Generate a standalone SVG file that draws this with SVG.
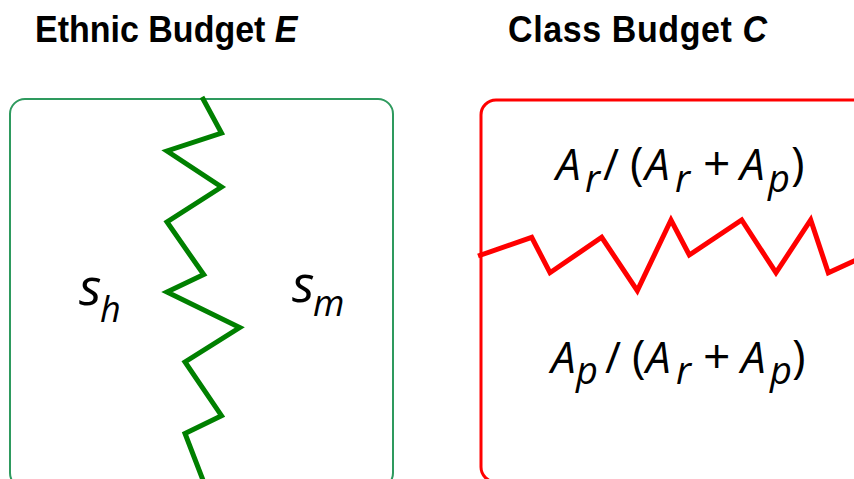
<svg xmlns="http://www.w3.org/2000/svg" width="854" height="479" viewBox="0 0 854 479">
<style>
.title{font-family:"Liberation Sans",Arial,sans-serif;font-weight:bold;font-size:34px;fill:#000}
.m{font-family:"Open Sans","DejaVu Sans",sans-serif;font-style:italic;fill:#000}
.up{font-style:normal}
</style>
<rect width="854" height="479" fill="#fff"/>
<g id="ethnic">
<text class="title" transform="translate(35,42) scale(1,1.1)">Ethnic Budget <tspan font-style="italic">E</tspan></text>
<rect x="10" y="99" width="383" height="389" rx="15" fill="none" stroke="#2e9a5e" stroke-width="2"/>
<text class="m" font-size="52" x="79" y="305">s</text>
<text class="m" font-size="36" x="100" y="322">h</text>
<text class="m" font-size="52" x="292" y="302">s</text>
<text class="m" font-size="36" x="313" y="316">m</text>
</g>
<g id="class">
<text class="title" transform="translate(508,42) scale(1,1.1)" letter-spacing="0.6">Class Budget <tspan font-style="italic">C</tspan></text>
<rect x="481" y="100" width="400" height="382" rx="15" fill="none" stroke="#ff0000" stroke-width="3"/>
<text class="m" font-size="44" y="180"><tspan x="556">A</tspan><tspan x="603" class="up">/</tspan><tspan x="630" class="up" font-size="46">(</tspan><tspan x="645">A</tspan><tspan x="703" class="up" font-size="48">+</tspan><tspan x="740">A</tspan><tspan x="791" class="up" font-size="46">)</tspan></text>
<text class="m" font-size="38" y="192"><tspan x="585">r</tspan><tspan x="675">r</tspan><tspan x="768">p</tspan></text>
<text class="m" font-size="44" y="373"><tspan x="551">A</tspan><tspan x="605" class="up">/</tspan><tspan x="632" class="up" font-size="46">(</tspan><tspan x="646">A</tspan><tspan x="703" class="up" font-size="48">+</tspan><tspan x="741">A</tspan><tspan x="792" class="up" font-size="46">)</tspan></text>
<text class="m" font-size="38" y="384"><tspan x="576">p</tspan><tspan x="676">r</tspan><tspan x="770">p</tspan></text>
</g>
<g id="connectors" fill="none" stroke-width="5" stroke-linejoin="miter">
<polyline stroke="#008000" points="202,97 221.5,133 167,151 221.5,187 167,222 203.7,274.6 167,292 239.7,327.5 185,362 221.5,415.7 185,433.5 203.7,482"/>
<polyline stroke="#ff0000" points="478,256 531.7,237.3 550,272.7 601.7,237.3 637.3,290.7 671,220 689.3,255 741.7,220 776,272.7 810.7,220 828.3,272.7 856,260"/>
</g>
</svg>
